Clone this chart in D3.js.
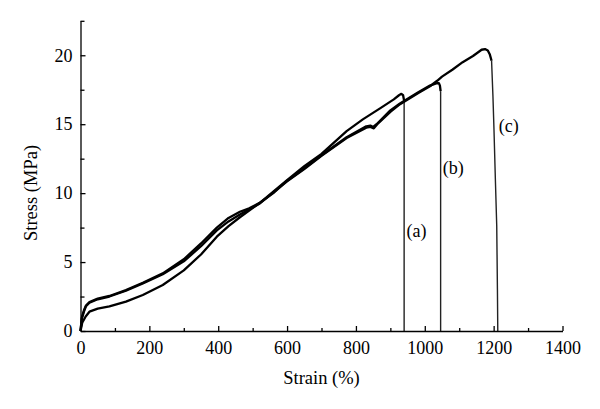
<!DOCTYPE html>
<html><head><meta charset="utf-8">
<script src="https://cdn.jsdelivr.net/npm/d3@7"></script>
<style>body{margin:0;background:#fff}svg{display:block}</style>
</head><body>
<svg id="c" width="600" height="409"></svg>
<script>
const strainA = [0,5,15,26,50,84,132,181,239,300,350,396,430,463,521,560,600,650,700,773,820,870,910,925,932,937,940,940];
const stressA = [0,0.6,1.05,1.4,1.62,1.78,2.13,2.61,3.34,4.4,5.55,6.84,7.6,8.25,9.3,10.1,10.95,11.95,12.85,14.5,15.35,16.15,16.8,17.1,17.2,17.1,16.7,0];
const strainB = [0,4,10,16,26,50,84,132,181,239,300,350,396,430,463,490,521,560,600,650,700,773,830,842,850,860,900,928,980,1015,1035,1041,1044,1046,1046];
const stressB = [0,1.0,1.5,1.85,2.1,2.35,2.54,2.97,3.5,4.18,5.2,6.35,7.5,8.2,8.65,8.9,9.3,10.0,10.9,11.8,12.75,14.05,14.85,14.9,14.8,15.0,16.0,16.5,17.3,17.8,17.97,17.98,17.8,17.4,0];
const strainC = [0,4,10,16,26,50,84,132,181,239,300,350,396,430,463,521,560,600,650,700,773,830,842,852,862,900,928,980,1015,1036,1050,1080,1110,1140,1165,1175,1183,1189,1194,1198,1201,1205,1209,1211,1212];
const stressC = [0,0.9,1.4,1.8,2.05,2.3,2.5,2.92,3.45,4.12,5.05,6.15,7.3,7.95,8.45,9.25,10.05,10.85,11.75,12.7,14.0,14.75,14.8,14.7,15.0,15.9,16.45,17.25,17.75,18.15,18.45,18.95,19.5,19.95,20.4,20.45,20.35,20.05,19.6,17.0,14.6,11.0,7.6,3.0,0];
const curveLabels = ["(a)","(b)","(c)"];
const xMajor = [0,200,400,600,800,1000,1200,1400];
const xMinor = [100,300,500,700,900,1100,1300];
const yMajor = [0,5,10,15,20];
const yMinor = [2.5,7.5,12.5,17.5,22.5];

const svg = d3.select("#c");
const font = "'Liberation Serif', 'Times New Roman', serif";
const x = d3.scaleLinear().domain([0,1400]).range([80.5,562.5]);
const y = d3.scaleLinear().domain([0,22.5]).range([331,20.8]);

const series = [
  {label: curveLabels[0], pts: strainA.map((s,i)=>[s,stressA[i]]), lx: 938, ly: 6.8},
  {label: curveLabels[1], pts: strainB.map((s,i)=>[s,stressB[i]]), lx: 1045, ly: 11.4},
  {label: curveLabels[2], pts: strainC.map((s,i)=>[s,stressC[i]]), lx: 1206, ly: 14.4}
];

const line = d3.line().x(d=>x(d[0])).y(d=>y(d[1])).curve(d3.curveLinear);

series.forEach(s => {
  const max = d3.max(s.pts, d=>d[1]);
  const iMax = s.pts.findIndex(d=>d[1]===max);
  let end = iMax;
  while (end+1 < s.pts.length && s.pts[end+1][1] > 0.95*max) end++;
  svg.append("path").attr("d", line(s.pts.slice(end))).attr("fill","none")
    .attr("stroke","#222").attr("stroke-width",1.4);
  svg.append("path").attr("d", line(s.pts.slice(0,end+1))).attr("fill","none")
    .attr("stroke","#000").attr("stroke-width",2.3).attr("stroke-linejoin","round");
  svg.append("text").attr("x", x(s.lx)+ 13).attr("y", y(s.ly)).attr("text-anchor","middle")
    .attr("font-family",font).attr("font-size",18).attr("fill","#000").text(s.label);
});

// axes
svg.append("g").attr("transform","translate(0,331)")
  .call(d3.axisBottom(x).tickValues(xMajor).tickSize(-5).tickSizeOuter(0).tickPadding(10).tickFormat(d3.format("d")));
svg.append("g").attr("transform","translate(0,331)")
  .call(d3.axisBottom(x).tickValues(xMinor).tickSize(-3).tickSizeOuter(0).tickFormat(""))
  .select(".domain").remove();
svg.append("g").attr("transform","translate(80.5,0)")
  .call(d3.axisLeft(y).tickValues(yMajor).tickSize(-5).tickSizeOuter(0).tickPadding(8));
svg.append("g").attr("transform","translate(80.5,0)")
  .call(d3.axisLeft(y).tickValues(yMinor).tickSize(-4).tickSizeOuter(0).tickFormat(""))
  .select(".domain").remove();
svg.selectAll(".tick line, .domain").attr("stroke","#000").attr("stroke-width",1.3);
svg.selectAll(".tick text").attr("font-family",font).attr("font-size",18).attr("fill","#000");

svg.append("text").attr("x",(80.5+562.5)/2).attr("y",384).attr("text-anchor","middle")
  .attr("font-family",font).attr("font-size",18.5).text("Strain (%)");
svg.append("text").attr("transform","translate(37,193) rotate(-90)").attr("text-anchor","middle")
  .attr("font-family",font).attr("font-size",18.5).text("Stress (MPa)");
</script>
</body></html>
